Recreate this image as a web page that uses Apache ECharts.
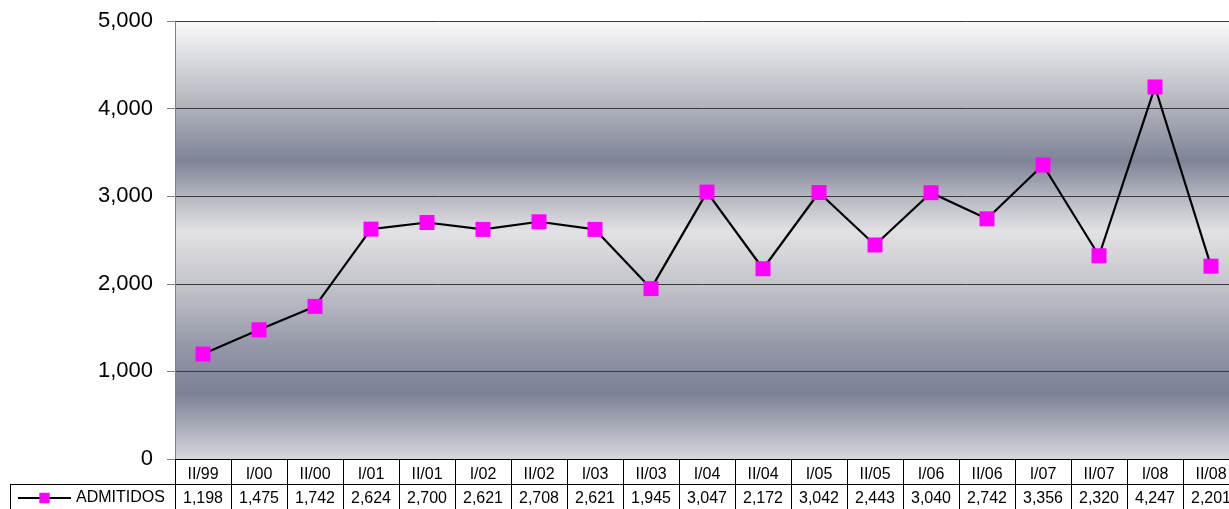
<!DOCTYPE html>
<html>
<head>
<meta charset="utf-8">
<script src="https://cdn.jsdelivr.net/npm/echarts@6/dist/echarts.min.js"></script>
<style>html,body{margin:0;padding:0;background:#fff}#c{width:1229px;height:509px}</style>
</head>
<body>
<div id="c"></div>
<script>
const categories = ['II/99','I/00','II/00','I/01','II/01','I/02','II/02','I/03','II/03','I/04','II/04','I/05','II/05','I/06','II/06','I/07','II/07','I/08','II/08'];
const admitidos = [1198,1475,1742,2624,2700,2621,2708,2621,1945,3047,2172,3042,2443,3040,2742,3356,2320,4247,2201];
const seriesName = 'ADMITIDOS';
const yTicks = {min: 0, max: 5000, interval: 1000};

const fmt = v => Number(v).toLocaleString('en-US');
const chart = echarts.init(document.getElementById('c'));
const font = 'Liberation Sans, Arial, sans-serif';
chart.setOption({
  animation: false,
  textStyle: {fontFamily: font},
  grid: {
    left: 175, top: 21, width: 1064, bottom: 50, show: true, borderWidth: 0,
    containLabel: false, outerBoundsMode: 'none',
    backgroundColor: new echarts.graphic.LinearGradient(0, 0, 0, 1, [
      {offset: 0, color: '#fafafa'},
      {offset: 0.19, color: '#b3b5be'},
      {offset: 0.32, color: '#7e8396'},
      {offset: 0.40, color: '#b4b6c0'},
      {offset: 0.48, color: '#e2e2e4'},
      {offset: 0.60, color: '#c4c5cc'},
      {offset: 0.74, color: '#9598a9'},
      {offset: 0.85, color: '#7b8095'},
      {offset: 1, color: '#d6d7db'}
    ])
  },
  legend: {
    left: 12, top: 485, itemWidth: 53, itemHeight: 13, itemGap: 0,
    textStyle: {fontSize: 16, color: '#000', fontFamily: font},
    data: [seriesName]
  },
  xAxis: [{
    type: 'category', data: categories, position: 'bottom', boundaryGap: true,
    axisLine: {lineStyle: {color: '#000', width: 1}},
    axisTick: {show: true, inside: false, length: 50, lineStyle: {color: '#000', width: 1}},
    axisLabel: {fontSize: 16, color: '#000', margin: 8, fontFamily: font, interval: 0}
  }, {
    type: 'category', data: categories, position: 'bottom', offset: 26, boundaryGap: true,
    axisLine: {show: false}, axisTick: {show: false},
    axisLabel: {fontSize: 16, color: '#000', margin: 6, fontFamily: font, interval: 0,
      formatter: (v, i) => fmt(admitidos[i])}
  }],
  yAxis: {
    type: 'value', min: yTicks.min, max: yTicks.max, interval: yTicks.interval,
    axisLine: {show: true, lineStyle: {color: '#808080', width: 1}},
    axisTick: {show: true, length: 8, lineStyle: {color: '#808080'}},
    axisLabel: {fontSize: 22, color: '#000', margin: 22, fontFamily: font, formatter: v => fmt(v)},
    splitLine: {show: true, lineStyle: {color: '#3a3a3a', width: 1}}
  },
  series: [{
    name: seriesName, type: 'line', data: admitidos,
    symbol: 'rect', symbolSize: 15,
    lineStyle: {color: '#000', width: 2.2},
    itemStyle: {color: '#ff00ff'}
  }],
  graphic: [
    {type: 'line', shape: {x1: 10, y1: 484.5, x2: 1229, y2: 484.5}, style: {stroke: '#000', lineWidth: 1}},
    {type: 'line', shape: {x1: 10.5, y1: 484, x2: 10.5, y2: 509}, style: {stroke: '#000', lineWidth: 1}},
    {type: 'line', shape: {x1: 175.5, y1: 459, x2: 175.5, y2: 509}, style: {stroke: '#000', lineWidth: 1}}
  ]
});
</script>
</body>
</html>
